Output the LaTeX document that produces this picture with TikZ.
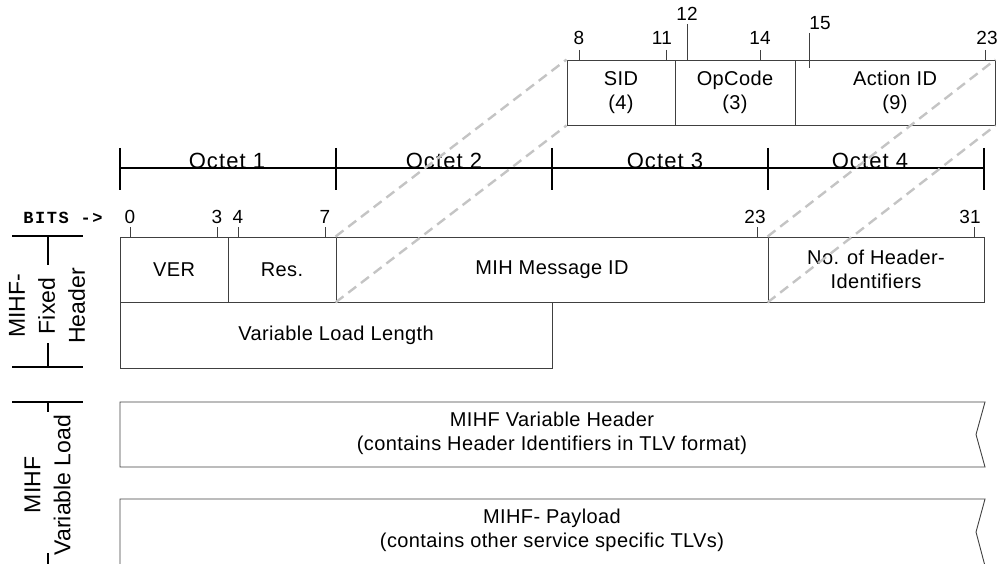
\documentclass[tikz,border=0pt]{standalone}
\usepackage{fontspec}
\setmainfont{Liberation Sans}
\newfontfamily\octfont{Liberation Sans}[LetterSpace=5]
\newfontfamily\boxfont{Liberation Sans}[LetterSpace=2]
\newfontfamily\bitsfont{Liberation Mono}[LetterSpace=9]
\definecolor{boxc}{HTML}{404040}
\definecolor{dashc}{HTML}{C4C4C4}
\begin{document}
\begin{tikzpicture}[x=1pt,y=-1pt,
  box/.style={draw=boxc, line width=0.9pt, inner sep=0pt, align=center, font=\boxfont\fontsize{20}{24}\selectfont},
  boxline/.style={draw=boxc, line width=0.9pt},
  boxtxt/.style={inner sep=0pt, align=center, font=\boxfont\fontsize{20}{24}\selectfont},
  bitlbl/.style={anchor=base, inner sep=0pt, font=\boxfont\fontsize{19}{21}\selectfont},
  tick/.style={draw=boxc, line width=0.9pt},
  octlbl/.style={anchor=base, inner sep=0pt, font=\octfont\fontsize{22}{24}\selectfont},
  octline/.style={line width=1.6pt},
  brk/.style={line width=1.6pt},
  sidelbl/.style={rotate=90, align=center, inner sep=0pt, font=\fontsize{23}{30}\selectfont},
  zoomln/.style={draw=dashc, line width=2.4pt, dash pattern=on 10pt off 6pt}]
\useasboundingbox (0,0) rectangle (998,564);

% top detail boxes
\node[box, minimum width=108pt, minimum height=65pt] (sid) at (621,92.5) {SID\\(4)};
\node[box, minimum width=120pt, minimum height=65pt] (opc) at (735,92.5) {OpCode\\(3)};
\node[box, minimum width=200pt, minimum height=65pt] (act) at (895,92.5) {Action ID\\(9)};

% top ticks and labels
\draw[tick] (579,50) -- (579,60);
\draw[tick] (666,50) -- (666,60);
\draw[tick] (687,24) -- (687,60);
\draw[tick] (760,50) -- (760,60);
\draw[tick] (809,33) -- (809,68);
\draw[tick] (985,50) -- (985,60);
\node[bitlbl] (t8) at (579,45) {8};
\node[bitlbl] (t11) at (662,45) {11};
\node[bitlbl] (t12) at (687,21) {12};
\node[bitlbl] (t14) at (760,45) {14};
\node[bitlbl] (t15) at (820,30) {15};
\node[bitlbl] (t23) at (987,45) {23};

% octet scale
\draw[octline] (120,168) -- (984,168);
\foreach \x in {120,336,552,768,984} { \draw[octline] (\x,148) -- (\x,190); }
\node[octlbl] (o1) at (227,169) {Octet 1};
\node[octlbl] (o2) at (444,169) {Octet 2};
\node[octlbl] (o3) at (665,169) {Octet 3};
\node[octlbl] (o4) at (870,169) {Octet 4};

% bits row
\node[anchor=base, inner sep=0pt, font=\bitsfont\bfseries\fontsize{17}{19}\selectfont] (bits) at (63,223) {BITS ->};
\node[bitlbl] (b0) at (130,223) {0};
\node[bitlbl] (b3) at (217,223) {3};
\node[bitlbl] (b4) at (238,223) {4};
\node[bitlbl] (b7) at (325,223) {7};
\node[bitlbl] (b23) at (755,223) {23};
\node[bitlbl] (b31) at (970,223) {31};
\foreach \x in {130,217,238,325,757,974} { \draw[tick] (\x,227) -- (\x,237); }

% fixed header boxes
\node[box, minimum width=108pt, minimum height=65pt] (ver) at (174,269.5) {VER};
\node[box, minimum width=108pt, minimum height=65pt] (res) at (282,269.5) {Res.};
\node[box, minimum width=432pt, minimum height=65pt] (msg) at (552,269.5) {MIH Message ID};
\node[box, minimum width=216pt, minimum height=65pt] (nhi) at (876,269.5) {No. of Header-\\Identifiers};
\node[box, minimum width=432pt, minimum height=66pt] (vll) at (336,335) {Variable Load Length};

% variable load boxes
\draw[boxline] (120,402) -- (985,402) -- (976,434.5) -- (985,467) -- (120,467) -- cycle;
\node[boxtxt] (vhdr) at (552,433) {MIHF Variable Header\\(contains Header Identifiers in TLV format)};
\draw[boxline] (120,566) -- (120,499) -- (985,499) -- (976,532) -- (985,566);
\node[boxtxt] (pay) at (552,530.5) {MIHF- Payload\\(contains other service specific TLVs)};

% side brackets
\draw[brk] (12,236) -- (83,236);
\draw[brk] (48,236) -- (48,265);
\draw[brk] (48,343) -- (48,367);
\draw[brk] (12,367) -- (83,367);
\node[sidelbl] (fixh) at (47,306) {MIHF-\\Fixed\\Header};
\draw[brk] (12,402) -- (83,402);
\draw[brk] (48,402) -- (48,412);
\draw[brk] (48,553) -- (48,566);
\node[sidelbl] (varl) at (47.5,485) {MIHF\\Variable Load};

% zoom lines
\draw[zoomln] (msg.north west) -- (sid.north west);
\draw[zoomln] (msg.south west) -- (sid.south west);
\draw[zoomln] (nhi.north west) -- (act.north east);
\draw[zoomln] (nhi.south west) -- (act.south east);
\end{tikzpicture}
\end{document}
